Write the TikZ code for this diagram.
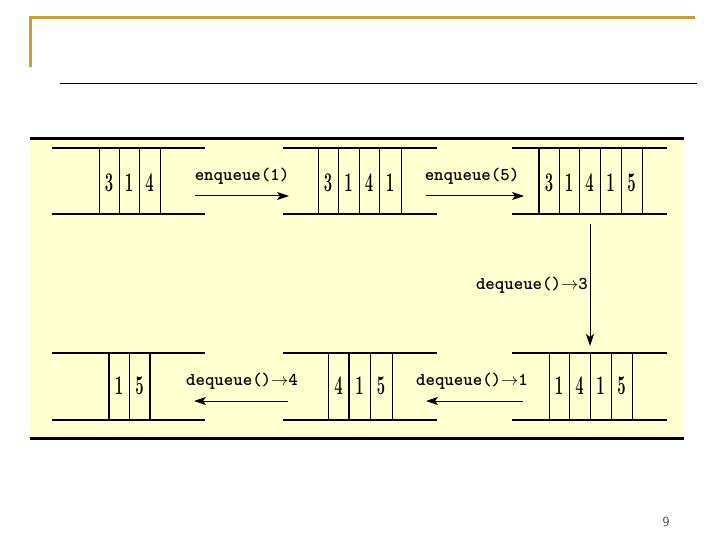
\documentclass[tikz,border=0pt]{standalone}
\usetikzlibrary{arrows.meta}
\definecolor{gold}{RGB}{200,160,40}
\definecolor{panel}{RGB}{255,255,208}
\tikzset{
  qline/.style={line width=1.3pt},
  cline/.style={line width=0.8pt},
  digit/.style={inner sep=0pt,font=\bfseries\fontsize{27}{27}\selectfont},
  lbl/.style={inner sep=0pt,font=\ttfamily\bfseries\fontsize{18}{18}\selectfont},
  op/.style={line width=1pt,-{Stealth[length=12pt,width=8pt,inset=3pt]}},
}
\newcommand{\dg}[1]{\scalebox{0.55}[1]{#1}}
\begin{document}
\begin{tikzpicture}[x=1pt,y=-1pt]
\useasboundingbox (0,0) rectangle (720,540);
% frame
\draw[gold,line width=3pt] (30,67) -- (30,18) -- (695,18);
\draw[line width=1pt] (60,84) -- (697,84);
% panel
\fill[panel] (30,139) rectangle (684,438);
\draw[line width=3pt] (30,139) -- (684,139);
\draw[line width=3pt] (30,438) -- (684,438);
% ---------- top row ----------
\foreach \a/\b in {52/205,283/437,512/667}{
  \draw[qline] (\a,148) -- (\b,148);
  \draw[qline] (\a,214) -- (\b,214);
}
% queue 1
\foreach \x in {99,119,139,160} \draw[cline] (\x,148) -- (\x,214);
\node[digit] (q1a) at (109,183) {\dg{3}};
\node[digit] (q1b) at (129,183) {\dg{1}};
\node[digit] (q1c) at (149.5,183) {\dg{4}};
% queue 2
\foreach \x in {318,338,359,379,401} \draw[cline] (\x,148) -- (\x,214);
\node[digit] (q2a) at (328,183) {\dg{3}};
\node[digit] (q2b) at (348.5,183) {\dg{1}};
\node[digit] (q2c) at (369,183) {\dg{4}};
\node[digit] (q2d) at (390,183) {\dg{1}};
% queue 3
\draw[line width=1.3pt] (539,148) -- (539,214);
\foreach \x in {559,579,600,621,642} \draw[cline] (\x,148) -- (\x,214);
\node[digit] (q3a) at (549,183) {\dg{3}};
\node[digit] (q3b) at (569,183) {\dg{1}};
\node[digit] (q3c) at (589.5,183) {\dg{4}};
\node[digit] (q3d) at (610.5,183) {\dg{1}};
\node[digit] (q3e) at (631.5,183) {\dg{5}};
% enqueue arrows
\coordinate (e1s) at (195,196); \coordinate (e1e) at (289,196);
\draw[op] (e1s) -- (e1e);
\node[lbl] (l1) at (242,176) {enqueue(1)};
\coordinate (e2s) at (426,196); \coordinate (e2e) at (524,196);
\draw[op] (e2s) -- (e2e);
\node[lbl] (l2) at (472,176) {enqueue(5)};
% vertical dequeue
\coordinate (d3s) at (590,224); \coordinate (d3e) at (590,346);
\draw[op] (d3s) -- (d3e);
\node[lbl,anchor=east] (l3) at (588,285) {dequeue()$\rightarrow$3};
% ---------- bottom row ----------
\foreach \a/\b in {52/205,283/437,512/667}{
  \draw[qline] (\a,353) -- (\b,353);
  \draw[qline] (\a,420) -- (\b,420);
}
% queue 4 (bottom left)
\draw[line width=1.3pt] (109,353) -- (109,420);
\draw[cline] (129,353) -- (129,420);
\draw[line width=1.3pt] (150,353) -- (150,420);
\node[digit] (q4a) at (119,386) {\dg{1}};
\node[digit] (q4b) at (139.5,386) {\dg{5}};
% queue 5 (bottom middle)
\draw[cline] (328,353) -- (328,420);
\draw[line width=1.3pt] (349,353) -- (349,420);
\draw[cline] (370,353) -- (370,420);
\draw[cline] (392,353) -- (392,420);
\node[digit] (q5a) at (338.5,386) {\dg{4}};
\node[digit] (q5b) at (359.5,386) {\dg{1}};
\node[digit] (q5c) at (381,386) {\dg{5}};
% queue 6 (bottom right)
\foreach \x in {549,569,590,611,632} \draw[cline] (\x,353) -- (\x,420);
\node[digit] (q6a) at (559,386) {\dg{1}};
\node[digit] (q6b) at (579.5,386) {\dg{4}};
\node[digit] (q6c) at (600.5,386) {\dg{1}};
\node[digit] (q6d) at (621.5,386) {\dg{5}};
% dequeue arrows
\coordinate (d1s) at (523,401); \coordinate (d1e) at (426,401);
\draw[op] (d1s) -- (d1e);
\node[lbl] (l4) at (472,381) {dequeue()$\rightarrow$1};
\coordinate (d4s) at (288,401); \coordinate (d4e) at (194,401);
\draw[op] (d4s) -- (d4e);
\node[lbl] (l5) at (242,381) {dequeue()$\rightarrow$4};
% page number
\node[inner sep=0pt,text=black!75,font=\sffamily\fontsize{14}{14}\selectfont] (pg) at (666,522) {9};
\end{tikzpicture}
\end{document}
